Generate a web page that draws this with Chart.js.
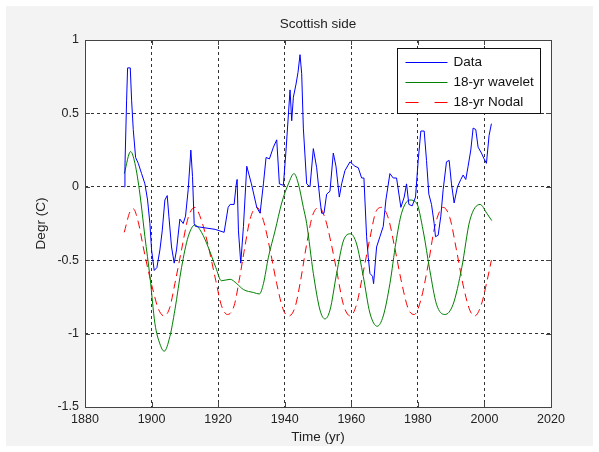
<!DOCTYPE html>
<html lang="en">
<head>
<meta charset="UTF-8">
<title>Scottish side</title>
<script src="https://cdn.jsdelivr.net/npm/chart.js"></script>
<style>
  body { margin: 0; background: #fff; }
  #chart { display: block; }
</style>
</head>
<body>
<canvas id="chart" width="599" height="452"></canvas>
<script>
// values
const dataYears = [1891.8, 1892.0, 1892.5, 1892.8, 1893.6, 1894.0, 1894.5, 1895.2, 1896.0, 1897.0,
  1898.0, 1898.8, 1899.5, 1900.0, 1900.8, 1901.6, 1902.5, 1903.2, 1904.0, 1904.7,
  1905.2, 1906.0, 1906.8, 1907.5, 1908.5, 1909.5, 1910.2, 1911.0, 1911.8, 1912.3,
  1912.8, 1913.2, 1919.1, 1921.8, 1923.0, 1923.6, 1924.8, 1925.4, 1925.7, 1926.1,
  1926.8, 1927.6, 1928.6, 1930.0, 1931.6, 1932.6, 1933.6, 1934.4, 1935.4, 1936.6,
  1937.6, 1938.4, 1939.6, 1940.4, 1941.6, 1942.1, 1942.6, 1943.4, 1944.0, 1944.6,
  1945.1, 1945.6, 1946.6, 1947.6, 1948.6, 1949.6, 1950.6, 1951.1, 1951.8, 1952.6,
  1953.6, 1954.6, 1955.4, 1956.4, 1957.1, 1958.1, 1959.6, 1961.1, 1962.1, 1963.1,
  1963.8, 1964.6, 1965.1, 1965.6, 1966.4, 1966.7, 1967.6, 1968.6, 1969.6, 1970.4,
  1971.6, 1972.6, 1973.6, 1974.9, 1975.9, 1976.6, 1977.3, 1978.3, 1979.3, 1980.1,
  1980.9, 1981.9, 1982.6, 1983.3, 1984.1, 1984.9, 1985.3, 1986.1, 1986.9, 1987.6,
  1988.6, 1989.4, 1990.1, 1990.9, 1991.9, 1992.9, 1993.6, 1994.4, 1995.1, 1995.9,
  1996.6, 1997.4, 1998.1, 1999.1, 1999.9, 2000.6, 2001.4, 2002.1];
const dataValues = [0.00, 0.14, 0.59, 0.81, 0.81, 0.59, 0.39, 0.20, 0.16, 0.09,
  0.02, -0.09, -0.25, -0.43, -0.57, -0.55, -0.43, -0.30, -0.09, -0.06,
  -0.20, -0.41, -0.52, -0.43, -0.22, -0.25, -0.20, -0.02, 0.25, 0.07,
  -0.25, -0.27, -0.29, -0.31, -0.14, -0.12, -0.12, 0.01, 0.05, -0.30,
  -0.52, -0.27, 0.14, 0.02, -0.14, -0.18, 0.02, 0.20, 0.19, 0.27,
  0.32, 0.02, 0.01, 0.25, 0.66, 0.45, 0.61, 0.70, 0.78, 0.90,
  0.77, 0.40, 0.02, 0.00, 0.26, 0.13, -0.09, -0.18, -0.18, -0.05,
  -0.03, 0.23, 0.14, -0.07, 0.02, 0.11, 0.17, 0.14, 0.13, 0.06,
  0.06, -0.34, -0.48, -0.59, -0.61, -0.66, -0.41, -0.34, -0.27, -0.09,
  0.09, 0.06, 0.06, -0.14, -0.07, 0.02, -0.12, -0.13, -0.07, 0.18,
  0.38, 0.38, 0.18, -0.05, -0.12, -0.25, -0.34, -0.33, -0.20, -0.02,
  0.17, 0.18, 0.02, -0.11, 0.00, 0.05, 0.08, 0.05, 0.14, 0.25,
  0.40, 0.39, 0.27, 0.23, 0.19, 0.16, 0.35, 0.43];

const waveletYears = [1891.8, 1893.7, 1895.0, 1896.5, 1898.0, 1899.5, 1901.0, 1902.5, 1903.8, 1905.5,
  1907.0, 1909.0, 1911.0, 1913.0, 1915.0, 1917.0, 1919.3, 1921.0, 1923.6, 1925.6,
  1927.6, 1930.6, 1932.4, 1933.6, 1935.1, 1937.1, 1939.1, 1941.1, 1942.8, 1944.1,
  1945.6, 1946.6, 1948.6, 1950.6, 1952.1, 1953.6, 1955.6, 1957.6, 1959.8, 1961.6,
  1963.6, 1965.6, 1967.8, 1969.6, 1971.6, 1973.4, 1975.1, 1977.6, 1979.6, 1981.6,
  1983.6, 1985.6, 1988.1, 1990.6, 1993.2, 1995.6, 1998.7, 2000.7, 2002.2];
const waveletValues = [0.09, 0.24, 0.16, -0.05, -0.34, -0.61, -0.93, -1.07, -1.12, -1.02,
  -0.84, -0.55, -0.34, -0.26, -0.31, -0.41, -0.55, -0.64, -0.63, -0.66,
  -0.70, -0.72, -0.73, -0.66, -0.48, -0.30, -0.11, 0.02, 0.09, 0.02,
  -0.14, -0.25, -0.59, -0.84, -0.90, -0.84, -0.59, -0.37, -0.32, -0.39,
  -0.61, -0.86, -0.95, -0.88, -0.66, -0.38, -0.18, -0.09, -0.11, -0.30,
  -0.57, -0.80, -0.87, -0.80, -0.55, -0.23, -0.12, -0.18, -0.23];

const nodalYears = [1891.8, 1893.5, 1894.5, 1896.0, 1897.5, 1899.0, 1900.5, 1902.0, 1903.8, 1905.5,
  1907.0, 1909.0, 1911.0, 1913.0, 1915.0, 1917.0, 1919.3, 1921.0, 1922.8, 1924.8,
  1926.3, 1927.8, 1929.6, 1931.6, 1933.6, 1935.6, 1937.6, 1939.6, 1941.2, 1943.1,
  1944.6, 1946.6, 1948.3, 1950.3, 1952.2, 1953.9, 1955.6, 1957.6, 1959.7, 1961.6,
  1963.6, 1965.6, 1967.4, 1969.2, 1971.2, 1973.1, 1975.1, 1977.1, 1978.9, 1980.9,
  1983.1, 1985.1, 1987.6, 1989.6, 1991.6, 1993.6, 1995.6, 1997.1, 1999.1, 2000.6, 2002.1];
const nodalValues = [-0.31, -0.17, -0.15, -0.24, -0.41, -0.57, -0.71, -0.83, -0.88, -0.82,
  -0.66, -0.43, -0.21, -0.14, -0.23, -0.40, -0.64, -0.81, -0.87, -0.81,
  -0.64, -0.44, -0.22, -0.14, -0.23, -0.43, -0.66, -0.84, -0.88, -0.82,
  -0.66, -0.39, -0.20, -0.14, -0.22, -0.38, -0.57, -0.80, -0.88, -0.80,
  -0.58, -0.35, -0.17, -0.14, -0.22, -0.42, -0.65, -0.83, -0.87, -0.77,
  -0.53, -0.27, -0.14, -0.21, -0.43, -0.67, -0.84, -0.88, -0.80, -0.66, -0.50];

const xTicks = [1880, 1900, 1920, 1940, 1960, 1980, 2000, 2020];
const yTicks = [-1.5, -1, -0.5, 0, 0.5, 1];

function toPoints(xs, ys) {
  return xs.map((x, i) => ({ x: x, y: ys[i] }));
}

Chart.defaults.font.family = "'Liberation Sans', Arial, sans-serif";
Chart.defaults.color = '#222';

const gridColor = ctx => {
  const s = ctx.scale;
  if (ctx.tick && (ctx.tick.value === s.min || ctx.tick.value === s.max)) return 'rgba(0,0,0,0)';
  return '#333';
};

// grey figure background and white axes
const figureBackground = {
  id: 'figureBackground',
  beforeDraw(chart) {
    const { ctx, chartArea: a } = chart;
    ctx.save();
    ctx.fillStyle = '#f3f3f3';
    ctx.fillRect(6, 6, chart.width - 12, chart.height - 12);
    ctx.fillStyle = '#fff';
    ctx.fillRect(a.left, a.top, a.right - a.left, a.bottom - a.top);
    ctx.restore();
  }
};

// box around axes with inward ticks on all four sides
const axesBox = {
  id: 'axesBox',
  afterDatasetsDraw(chart) {
    const { ctx, chartArea: a, scales } = chart;
    const len = 5;
    ctx.save();
    ctx.strokeStyle = '#444';
    ctx.lineWidth = 1;
    ctx.beginPath();
    xTicks.forEach(v => {
      const x = Math.round(scales.x.getPixelForValue(v)) + 0.5;
      ctx.moveTo(x, a.bottom); ctx.lineTo(x, a.bottom - len);
      ctx.moveTo(x, a.top); ctx.lineTo(x, a.top + len);
    });
    yTicks.forEach(v => {
      const y = Math.round(scales.y.getPixelForValue(v)) + 0.5;
      ctx.moveTo(a.left, y); ctx.lineTo(a.left + len, y);
      ctx.moveTo(a.right, y); ctx.lineTo(a.right - len, y);
    });
    ctx.stroke();
    ctx.strokeRect(Math.round(a.left) + 0.5, Math.round(a.top) + 0.5,
      Math.round(a.right - a.left), Math.round(a.bottom - a.top));
    ctx.restore();
  }
};

// MATLAB style legend box in the top right corner
const legendBox = {
  id: 'legendBox',
  afterDraw(chart) {
    const { ctx, chartArea: a } = chart;
    const w = 143, h = 65;
    const x0 = Math.round(a.right - 11 - w) + 0.5;
    const y0 = Math.round(a.top + 8) + 0.5;
    ctx.save();
    ctx.fillStyle = '#fff';
    ctx.fillRect(x0, y0, w, h);
    ctx.strokeStyle = '#111';
    ctx.lineWidth = 1;
    ctx.strokeRect(x0, y0, w, h);
    ctx.font = "13.5px 'Liberation Sans', Arial, sans-serif";
    ctx.textBaseline = 'middle';
    chart.data.datasets.forEach((ds, i) => {
      const y = Math.round(y0 + 13 + i * 20) + 0.5;
      ctx.strokeStyle = ds.borderColor;
      ctx.setLineDash(ds.borderDash ? [13, 16] : []);
      ctx.beginPath();
      ctx.moveTo(x0 + 8, y);
      ctx.lineTo(x0 + 50, y);
      ctx.stroke();
      ctx.setLineDash([]);
      ctx.fillStyle = '#111';
      ctx.fillText(ds.label, x0 + 56, y);
    });
    ctx.restore();
  }
};

new Chart(document.getElementById('chart'), {
  type: 'line',
  data: {
    datasets: [
      {
        label: 'Data',
        data: toPoints(dataYears, dataValues),
        borderColor: '#0000ff',
        borderWidth: 1,
        pointRadius: 0,
        tension: 0
      },
      {
        label: '18-yr wavelet',
        data: toPoints(waveletYears, waveletValues),
        borderColor: '#008000',
        borderWidth: 1,
        pointRadius: 0,
        cubicInterpolationMode: 'monotone'
      },
      {
        label: '18-yr Nodal',
        data: toPoints(nodalYears, nodalValues),
        borderColor: '#ff0000',
        borderWidth: 1,
        borderDash: [8, 5],
        pointRadius: 0,
        cubicInterpolationMode: 'monotone'
      }
    ]
  },
  options: {
    responsive: false,
    animation: false,
    layout: { padding: { left: 0, right: 48, top: 0, bottom: 0 } },
    scales: {
      x: {
        type: 'linear',
        min: 1880,
        max: 2020,
        afterBuildTicks: s => { s.ticks = xTicks.map(v => ({ value: v })); },
        afterFit: s => { s.height = 45; },
        ticks: {
          padding: 5,
          maxRotation: 0,
          font: { size: 12.5 },
          callback: v => String(v)
        },
        grid: { color: gridColor, drawTicks: false },
        border: { display: false, dash: [3, 3] },
        title: {
          display: true,
          text: 'Time (yr)',
          font: { size: 13.5 },
          padding: { top: 0, bottom: 7 }
        }
      },
      y: {
        min: -1.5,
        max: 1,
        afterBuildTicks: s => { s.ticks = yTicks.map(v => ({ value: v })); },
        afterFit: s => { s.width = 85; },
        ticks: {
          padding: 6,
          font: { size: 12.5 },
          callback: v => String(v)
        },
        grid: { color: gridColor, drawTicks: false },
        border: { display: false, dash: [3, 3] },
        title: {
          display: true,
          text: 'Degr (C)',
          font: { size: 13.5 },
          padding: { top: 33, bottom: 0 }
        }
      }
    },
    plugins: {
      legend: { display: false },
      tooltip: { enabled: false },
      title: {
        display: true,
        text: 'Scottish side',
        fullSize: false,
        font: { size: 13.5, weight: 'normal' },
        color: '#222',
        padding: { top: 16, bottom: 7.8 }
      }
    }
  },
  plugins: [figureBackground, axesBox, legendBox]
});
</script>
</body>
</html>
